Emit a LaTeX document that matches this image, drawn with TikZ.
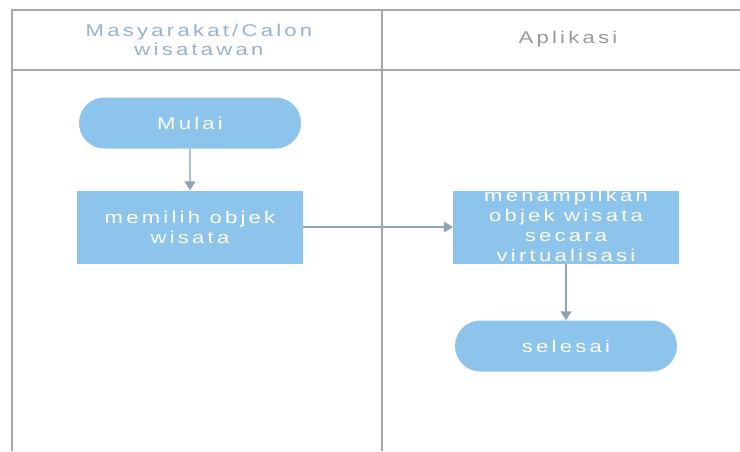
\documentclass[tikz,border=0pt]{standalone}
\usepackage{fontspec}
\setmainfont{Liberation Sans}
\newfontfamily\jarakfont[FakeStretch=1.3,LetterSpace=19]{Liberation Sans}
\usetikzlibrary{arrows.meta,shapes.misc}

% --- Warna ---
\definecolor{isiBiru}{RGB}{141,196,235}
\definecolor{garisAbu}{RGB}{168,168,168}
\definecolor{panahAbu}{RGB}{143,164,184}
\definecolor{teksJudul}{RGB}{150,178,204}
\definecolor{teksAbu}{RGB}{150,155,160}

% teks yang lebih tinggi dari kotaknya
\newcommand{\teksRapat}[1]{\smash{\raisebox{-5pt}{\begin{tabular}{@{}c@{}}#1\end{tabular}}}}

\tikzset{
  kotak/.style={rectangle, fill=isiBiru, minimum width=226pt, minimum height=73pt,
    inner sep=0pt, text=white, align=center, font=\jarakfont\fontsize{17}{20}\selectfont},
  terminal/.style={rounded rectangle, fill=isiBiru, minimum width=222pt, minimum height=51pt,
    inner sep=0pt, text=white, font=\jarakfont\fontsize{17}{20}\selectfont},
  judul/.style={align=center, font=\jarakfont\fontsize{17}{19}\selectfont},
  panah/.style={-{Triangle[width=11pt,length=9pt]}, draw=panahAbu, fill=panahAbu, line width=1.3pt}
}

\begin{document}
\begin{tikzpicture}[x=1pt,y=-1pt]
    % --- Ukuran gambar ---
    \useasboundingbox (0,0) rectangle (740,451);

    % --- Jalur (swimlane) ---
    \draw[garisAbu, line width=1.2pt] (740,10) -- (12,10) -- (12,451);
    \draw[garisAbu, line width=1.2pt] (382,10) -- (382,451);
    \draw[garisAbu, line width=1.2pt] (12,70) -- (740,70);

    % --- Judul jalur ---
    \node[judul, text=teksJudul] (jalurA) at (199,40) {Masyarakat/Calon\\wisatawan};
    \node[judul, text=teksAbu] (jalurB) at (568,39) {Aplikasi};

    % --- Aktivitas ---
    \node[terminal] (mulai) at (190,123) {Mulai};
    \node[kotak] (memilih) at (190,227) {memilih objek\\wisata};
    \node[kotak] (tampil) at (566,227) {\teksRapat{menampilkan\\objek wisata\\secara\\virtualisasi}};
    \node[terminal] (selesai) at (566,346) {selesai};

    % --- Alur ---
    \draw[panah] (mulai) -- (memilih);
    \draw[panah] (memilih) -- (tampil);
    \draw[panah] (tampil) -- (selesai);
\end{tikzpicture}
\end{document}
